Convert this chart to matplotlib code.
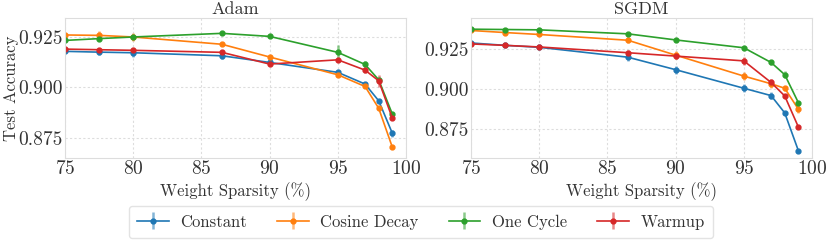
import matplotlib
matplotlib.use("Agg")
import matplotlib.pyplot as plt
import numpy as np

plt.rcParams['font.family'] = 'serif'
plt.rcParams['font.serif'] = ['cmr10']
plt.rcParams['mathtext.fontset'] = 'cm'
plt.rcParams['axes.formatter.use_mathtext'] = True

sparsity = [75, 77.5, 80, 86.5, 90, 95, 97, 98, 99]
schedules = ["Constant", "Cosine Decay", "One Cycle", "Warmup"]
colors = ["#1f77b4", "#ff7f0e", "#2ca02c", "#d62728"]

adam_constant = [0.9179, 0.9175, 0.9172, 0.9157, 0.9124, 0.9075, 0.9017, 0.8934, 0.8773]
adam_cosine   = [0.9260, 0.9258, 0.9250, 0.9214, 0.9151, 0.9063, 0.9005, 0.8897, 0.8704]
adam_onecycle = [0.9233, 0.9242, 0.9250, 0.9268, 0.9253, 0.9174, 0.9114, 0.9038, 0.8868]
adam_warmup   = [0.9190, 0.9187, 0.9184, 0.9174, 0.9116, 0.9137, 0.9086, 0.9033, 0.8848]

adam_constant_err = [0.0008, 0.0015, 0.0020, 0.0018, 0.0008, 0.0008, 0.0012, 0.0008, 0.0018]
adam_cosine_err   = [0.0010, 0.0020, 0.0020, 0.0008, 0.0006, 0.0008, 0.0006, 0.0008, 0.0010]
adam_onecycle_err = [0.0005, 0.0008, 0.0008, 0.0008, 0.0008, 0.0035, 0.0018, 0.0010, 0.0008]
adam_warmup_err   = [0.0006, 0.0010, 0.0010, 0.0008, 0.0008, 0.0010, 0.0012, 0.0030, 0.0008]

sgdm_constant = [0.9288, 0.9273, 0.9261, 0.9199, 0.9121, 0.9005, 0.8959, 0.8851, 0.8615]
sgdm_cosine   = [0.9366, 0.9353, 0.9341, 0.9305, 0.9212, 0.9081, 0.9033, 0.9005, 0.8874]
sgdm_onecycle = [0.9374, 0.9372, 0.9370, 0.9345, 0.9307, 0.9258, 0.9166, 0.9090, 0.8915]
sgdm_warmup   = [0.9282, 0.9273, 0.9263, 0.9227, 0.9206, 0.9176, 0.9041, 0.8957, 0.8763]

sgdm_constant_err = [0.0006, 0.0008, 0.0008, 0.0025, 0.0025, 0.0025, 0.0020, 0.0006, 0.0006]
sgdm_cosine_err   = [0.0006, 0.0008, 0.0008, 0.0020, 0.0025, 0.0025, 0.0025, 0.0015, 0.0025]
sgdm_onecycle_err = [0.0006, 0.0010, 0.0010, 0.0006, 0.0012, 0.0008, 0.0015, 0.0020, 0.0012]
sgdm_warmup_err   = [0.0006, 0.0012, 0.0008, 0.0015, 0.0020, 0.0025, 0.0020, 0.0008, 0.0010]

panels = [
    ("Adam", [adam_constant, adam_cosine, adam_onecycle, adam_warmup],
     [adam_constant_err, adam_cosine_err, adam_onecycle_err, adam_warmup_err]),
    ("SGDM", [sgdm_constant, sgdm_cosine, sgdm_onecycle, sgdm_warmup],
     [sgdm_constant_err, sgdm_cosine_err, sgdm_onecycle_err, sgdm_warmup_err]),
]

fig = plt.figure(figsize=(8.3, 2.41), dpi=100)
lefts = [65/830, 471/830]
width = 341/830
bottom = 1 - 158/241
height = 140/241
handles = []
for i, (title, vals, errs) in enumerate(panels):
    ax = fig.add_axes([lefts[i], bottom, width, height])
    for j, name in enumerate(schedules):
        h = ax.errorbar(sparsity, vals[j], yerr=errs[j], color=colors[j], marker='o',
                        markersize=3.5, linewidth=1.2, elinewidth=1.8, label=name)
        h[2][0].set_alpha(0.55)
        if i == 0:
            handles.append(h)
    ax.set_xlim(75, 100)
    ax.set_xticks([75, 80, 85, 90, 95, 100])
    ax.set_yticks([0.875, 0.900, 0.925])
    ax.yaxis.set_major_formatter(matplotlib.ticker.FormatStrFormatter('%.3f'))
    ax.grid(True, linestyle=(0, (2, 2)), color='#dddddd', linewidth=0.8)
    for s in ax.spines.values():
        s.set_color('#dddddd')
    ax.tick_params(length=0, labelsize=14, colors='#333333', pad=1.5)
    ax.set_title(title, fontsize=13, color='#333333', pad=3)
    ax.set_xlabel("Weight Sparsity (%)", fontsize=12, color='#333333', labelpad=3)
    if i == 0:
        ax.set_ylabel("Test Accuracy", fontsize=12, color='#333333')
        ax.yaxis.set_label_coords(-0.135, 0.5)
    if i == 0:
        ax.set_ylim(0.8651, 0.9344)
    else:
        ax.set_ylim(0.8569, 0.9444)

leg = fig.legend(handles, schedules, loc='center', bbox_to_anchor=(0.507, 1 - 222/241),
                 ncol=4, fontsize=12, frameon=True, handlelength=1.9, handletextpad=0.7,
                 columnspacing=1.8, edgecolor='#dddddd', fancybox=True, borderpad=0.5)
for t in leg.get_texts():
    t.set_color('#333333')
fig.savefig("out.png", dpi=100)
